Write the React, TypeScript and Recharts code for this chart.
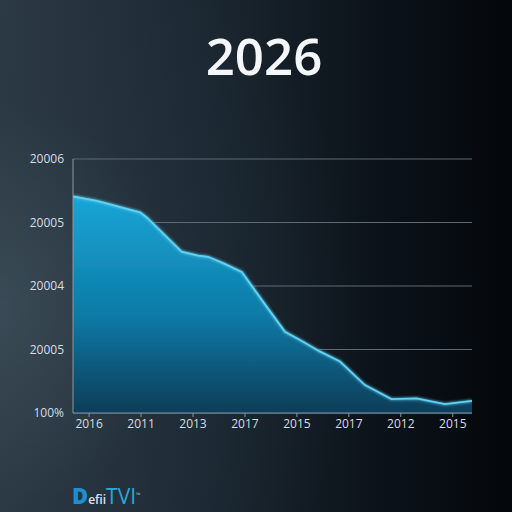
import React from "react";
import { AreaChart, Area, XAxis, YAxis, CartesianGrid } from "recharts";

const xPositions = [-0.31, 0.15, 0.98, 1.11, 1.78, 2.1, 2.29, 2.58, 2.94, 3.35, 3.77, 4.06, 4.44, 4.83, 5.31, 5.82, 6.3, 6.85, 7.37];
const values = [3.41, 3.34, 3.16, 3.08, 2.54, 2.48, 2.46, 2.36, 2.22, 1.75, 1.28, 1.15, 0.97, 0.81, 0.44, 0.22, 0.23, 0.14, 0.19];
const xTickLabels = ["2016", "2011", "2013", "2017", "2015", "2017", "2012", "2015"];
const yTickLabels = ["100%", "20005", "20004", "20005", "20006"];
const title = "2026";

const data = xPositions.map((x, i) => ({ x, v: values[i] }));
const xTicks = xTickLabels.map((_, i) => i);
const yTicks = yTickLabels.map((_, i) => i);

const font = "'Open Sans', 'DejaVu Sans', sans-serif";

export default function App() {
  return (
    <div
      style={{
        position: "fixed",
        left: 0,
        top: 0,
        width: 512,
        height: 512,
        overflow: "hidden",
        background:
          "radial-gradient(ellipse 70% 80% at 0% 60%, rgba(70,88,100,0.55) 0%, rgba(40,55,66,0.3) 50%, rgba(0,0,0,0) 100%), linear-gradient(90deg, #2c3a45 0%, #1b2731 40%, #0b1219 75%, #04070b 100%)",
        fontFamily: font,
      }}
    >
      <div
        style={{
          position: "absolute",
          left: 0,
          width: 512,
          top: 20,
          textAlign: "center",
          paddingLeft: 16,
          boxSizing: "border-box",
          color: "#f4f7fa",
          fontFamily: font,
          fontWeight: 600,
          fontSize: 51,
          lineHeight: "70px",
        }}
      >
        {title}
      </div>
      <div style={{ position: "absolute", left: 0, top: 0 }}>
        <AreaChart
          width={512}
          height={512}
          data={data}
          margin={{ top: 159, right: 40, bottom: 69, left: 0 }}
        >
          <defs>
            <linearGradient id="areaFill" x1="0" y1="0" x2="0" y2="1">
              <stop offset="0%" stopColor="#1aa6d6" stopOpacity={1} />
              <stop offset="55%" stopColor="#0c7aa6" stopOpacity={1} />
              <stop offset="100%" stopColor="#0a3d58" stopOpacity={1} />
            </linearGradient>
            <filter id="glow" x="-10%" y="-10%" width="120%" height="120%">
              <feGaussianBlur stdDeviation="1.5" result="b" />
              <feMerge>
                <feMergeNode in="b" />
                <feMergeNode in="SourceGraphic" />
              </feMerge>
            </filter>
          </defs>
          <CartesianGrid
            horizontal={true}
            vertical={false}
            stroke="#5d6a74"
            strokeWidth={1}
          />
          <XAxis
            dataKey="x"
            type="number"
            domain={[-0.31, 7.37]}
            ticks={xTicks}
            tickFormatter={(v: number) => xTickLabels[v] ?? ""}
            allowDataOverflow={true}
            height={30}
            stroke="#8b98a3"
            tickSize={4}
            tickMargin={2}
            tick={{ fill: "#d6dde4", fontSize: 12, fontFamily: font }}
            interval={0}
          />
          <YAxis
            type="number"
            domain={[0, 4]}
            ticks={yTicks}
            tickFormatter={(v: number) => yTickLabels[v] ?? ""}
            width={73}
            stroke="#8b98a3"
            tickSize={0}
            tickMargin={9}
            tick={{ fill: "#d6dde4", fontSize: 12, fontFamily: font }}
            interval={0}
          />
          <Area
            type="linear"
            dataKey="v"
            stroke="#62d2f2"
            strokeWidth={1.8}
            fill="url(#areaFill)"
            fillOpacity={1}
            isAnimationActive={false}
            dot={false}
            activeDot={false}
            style={{ filter: "url(#glow)" }}
          />
        </AreaChart>
      </div>
      <div
        style={{
          position: "absolute",
          left: 72,
          top: 484,
          whiteSpace: "nowrap",
          fontFamily: font,
          lineHeight: "22px",
        }}
      >
        <span style={{ color: "#1b8fd0", fontSize: 22, fontWeight: 800 }}>D</span>
        <span style={{ color: "#cfe6f2", fontSize: 12, fontWeight: 600 }}>efii</span>
        <span style={{ color: "#26a8e0", fontSize: 21, fontWeight: 400 }}>TVI</span>
        <span style={{ color: "#8fb8cc", fontSize: 6, verticalAlign: "top" }}>™</span>
      </div>
    </div>
  );
}
